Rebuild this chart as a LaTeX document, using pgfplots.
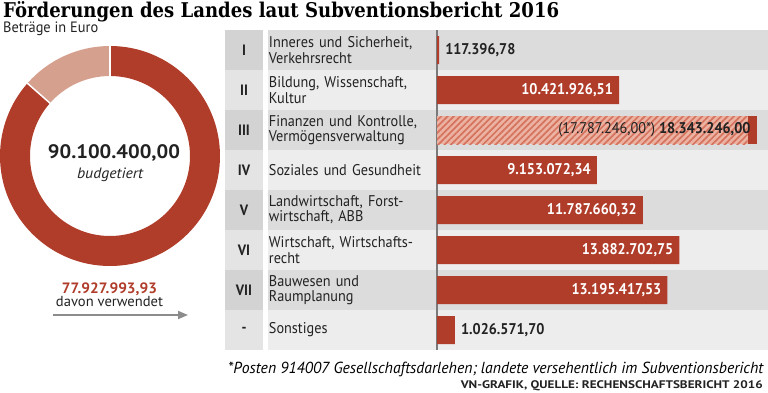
\documentclass[border=0pt]{standalone}
\usepackage{pgfplots}
\pgfplotsset{compat=1.18}
\usetikzlibrary{patterns.meta,arrows.meta}
\usepackage{fontspec}
\setmainfont{PT Sans}[FakeStretch=0.92]
\newfontfamily\titlefont{DejaVu Serif}
\hyphenpenalty=10000
\exhyphenpenalty=10000
\definecolor{vnred}{HTML}{B03C2A}
\definecolor{vnlight}{HTML}{D6A08F}
\definecolor{hatchbase}{HTML}{ECB3A3}
\definecolor{hatchline}{HTML}{D5735F}
\definecolor{rowA}{HTML}{DCDCDD}
\definecolor{rowB}{HTML}{EDEDEE}
\definecolor{numA}{HTML}{D3D3D4}
\definecolor{numB}{HTML}{E4E4E5}
\definecolor{axisgray}{HTML}{7A7A7A}
\definecolor{arrowgray}{HTML}{8C8C8C}
\definecolor{txt}{HTML}{222222}
\pgfmathsetmacro\fracU{77.92799393/90.1004}
\pgfmathsetmacro\eA{90-360*\fracU}
\begin{document}
\begin{tikzpicture}[x=1pt,y=1pt]
\useasboundingbox (0,0) rectangle (768,392);
% title
\node[anchor=base west, inner sep=0, text=black] at (3,374.5) {\resizebox{556pt}{16pt}{\titlefont\bfseries Förderungen des Landes laut Subventionsbericht 2016}};
\node[anchor=base west, inner sep=0, text=txt, font=\fontsize{15}{17}\selectfont] at (3,359.5) {\resizebox{95pt}{\height}{Beträge in Euro}};
% row stripes
\foreach \i in {0,2,4,6} {
  \fill[rowA] (268,{362-40*\i}) rectangle (768,{322-40*\i});
  \fill[numA] (225,{362-40*\i}) rectangle (263,{322-40*\i});
}
\foreach \i in {1,3,5,7} {
  \fill[rowB] (268,{362-40*\i}) rectangle (768,{322-40*\i});
  \fill[numB] (225,{362-40*\i}) rectangle (263,{322-40*\i});
}
% donut
\begin{axis}[at={(110pt,236pt)}, anchor=center, scale only axis, width=220pt, height=220pt,
  xmin=-1, xmax=1, ymin=-1, ymax=1, hide axis, clip=false]
\fill[vnred] ([shift={(90:110pt)}]axis cs:0,0) arc[start angle=90, end angle=\eA, radius=110pt]
  -- ([shift={(\eA:80pt)}]axis cs:0,0) arc[start angle=\eA, end angle=90, radius=80pt] -- cycle;
\fill[vnlight] ([shift={(\eA:110pt)}]axis cs:0,0) arc[start angle=\eA, end angle=-270, radius=110pt]
  -- ([shift={(-270:80pt)}]axis cs:0,0) arc[start angle=-270, end angle=\eA, radius=80pt] -- cycle;
\draw[white, line width=1.5pt] ([shift={(90:79pt)}]axis cs:0,0) -- ([shift={(90:111pt)}]axis cs:0,0);
\draw[white, line width=1.5pt] ([shift={(\eA:79pt)}]axis cs:0,0) -- ([shift={(\eA:111pt)}]axis cs:0,0);
\end{axis}
\node[anchor=base, inner sep=0, text=txt, font=\bfseries\fontsize{19.5}{22}\selectfont] at (114,233.7) {\resizebox{132pt}{\height}{90.100.400,00}};
\node[anchor=base, inner sep=0, text=txt, font=\itshape\fontsize{15}{17}\selectfont] at (110,213.7) {\resizebox{66pt}{\height}{budgetiert}};
\node[anchor=base, inner sep=0, text=vnred, font=\bfseries\fontsize{15}{16}\selectfont] at (109.5,98.7) {\resizebox{95pt}{\height}{77.927.993,93}};
\node[anchor=base, inner sep=0, text=txt, font=\fontsize{14.5}{16}\selectfont] at (109.5,85.3) {\resizebox{107pt}{\height}{davon verwendet}};
\draw[arrowgray, line width=1.8pt, -{Triangle[length=10pt,width=8pt]}] (53,77) -- (188,77);
% bars
\begin{axis}[at={(437pt,42pt)}, anchor=south west, scale only axis, width=331pt, height=320pt,
  xbar, bar shift=0pt, bar width=28pt,
  xmin=0, xmax=18950000, ymin=-0.5, ymax=7.5, y dir=reverse,
  axis x line=none, axis y line*=left, xtick=\empty, scaled x ticks=false,
  y axis line style={-, draw=axisgray, line width=1.3pt},
  ytick={0,1,2,3,4,5,6,7},
  yticklabels={{Inneres und Sicherheit,\\Verkehrsrecht},{Bildung, Wissenschaft,\\Kultur},{Finanzen und Kontrolle,\\Vermögensverwaltung},{Soziales und Gesundheit},{Landwirtschaft, Forst-\\wirtschaft, ABB},{Wirtschaft, Wirtschafts-\\recht},{Bauwesen und\\Raumplanung},{Sonstiges}},
  ytick style={draw=none},
  yticklabel style={anchor=west, xshift=-164pt, inner sep=0pt, text width=180pt, align=left, text=txt, font=\fontsize{15.5}{15.3}\selectfont},
  clip=false, point meta=explicit symbolic]
% solid bars, white labels inside
\addplot[draw=none, fill=vnred, nodes near coords,
  every node near coord/.style={anchor=east, xshift=-6pt, inner sep=0pt, text=white, font=\bfseries\fontsize{15.5}{17}\selectfont}]
  coordinates {(10421926.51,1) [10.421.926,51] (9153072.34,3) [9.153.072,34] (11787660.32,4) [11.787.660,32] (13882702.75,5) [13.882.702,75] (13195417.53,6) [13.195.417,53]};
% small bars, dark labels outside
\addplot[draw=none, fill=vnred, nodes near coords,
  every node near coord/.style={anchor=west, xshift=6pt, inner sep=0pt, text=txt, font=\bfseries\fontsize{15.5}{17}\selectfont}]
  coordinates {(117396.78,0) [117.396,78] (1026571.70,7) [1.026.571,70]};
% Finanzen: total, and hatched part 17.787.246,00
\addplot[draw=none, fill=vnred] coordinates {(18343246.00,2)};
\addplot[draw=none, fill=hatchbase] coordinates {(17787246.00,2)};
\addplot[draw=none, pattern={Lines[angle=45,distance=4.5pt,line width=1.7pt]}, pattern color=hatchline, nodes near coords,
  every node near coord/.style={anchor=east, xshift=3pt, inner sep=0pt, text=txt, font=\fontsize{15.5}{17}\selectfont}]
  coordinates {(17787246.00,2) [(17.787.246,00*) \textbf{18.343.246,00}]};
\node[font=\bfseries\fontsize{15}{17}\selectfont, text=txt] at (axis cs:0,0) [xshift=-193pt] {I};
\node[font=\bfseries\fontsize{15}{17}\selectfont, text=txt] at (axis cs:0,1) [xshift=-193pt] {II};
\node[font=\bfseries\fontsize{15}{17}\selectfont, text=txt] at (axis cs:0,2) [xshift=-193pt] {III};
\node[font=\bfseries\fontsize{15}{17}\selectfont, text=txt] at (axis cs:0,3) [xshift=-193pt] {IV};
\node[font=\bfseries\fontsize{15}{17}\selectfont, text=txt] at (axis cs:0,4) [xshift=-193pt] {V};
\node[font=\bfseries\fontsize{15}{17}\selectfont, text=txt] at (axis cs:0,5) [xshift=-193pt] {VI};
\node[font=\bfseries\fontsize{15}{17}\selectfont, text=txt] at (axis cs:0,6) [xshift=-193pt] {VII};
\node[font=\bfseries\fontsize{15}{17}\selectfont, text=txt] at (axis cs:0,7) [xshift=-193pt] {-};
\end{axis}
% footnote and source
\node[anchor=base west, inner sep=0, text=black, font=\itshape\fontsize{16}{18}\selectfont] at (228,19) {\resizebox{535pt}{\height}{*Posten 914007 Gesellschaftsdarlehen; landete versehentlich im Subventionsbericht}};
\node[anchor=base east, inner sep=0, text=txt, font=\bfseries\fontsize{11}{13}\selectfont] at (763,4) {\resizebox{302pt}{\height}{VN-GRAFIK, QUELLE: RECHENSCHAFTSBERICHT 2016}};
\end{tikzpicture}
\end{document}
